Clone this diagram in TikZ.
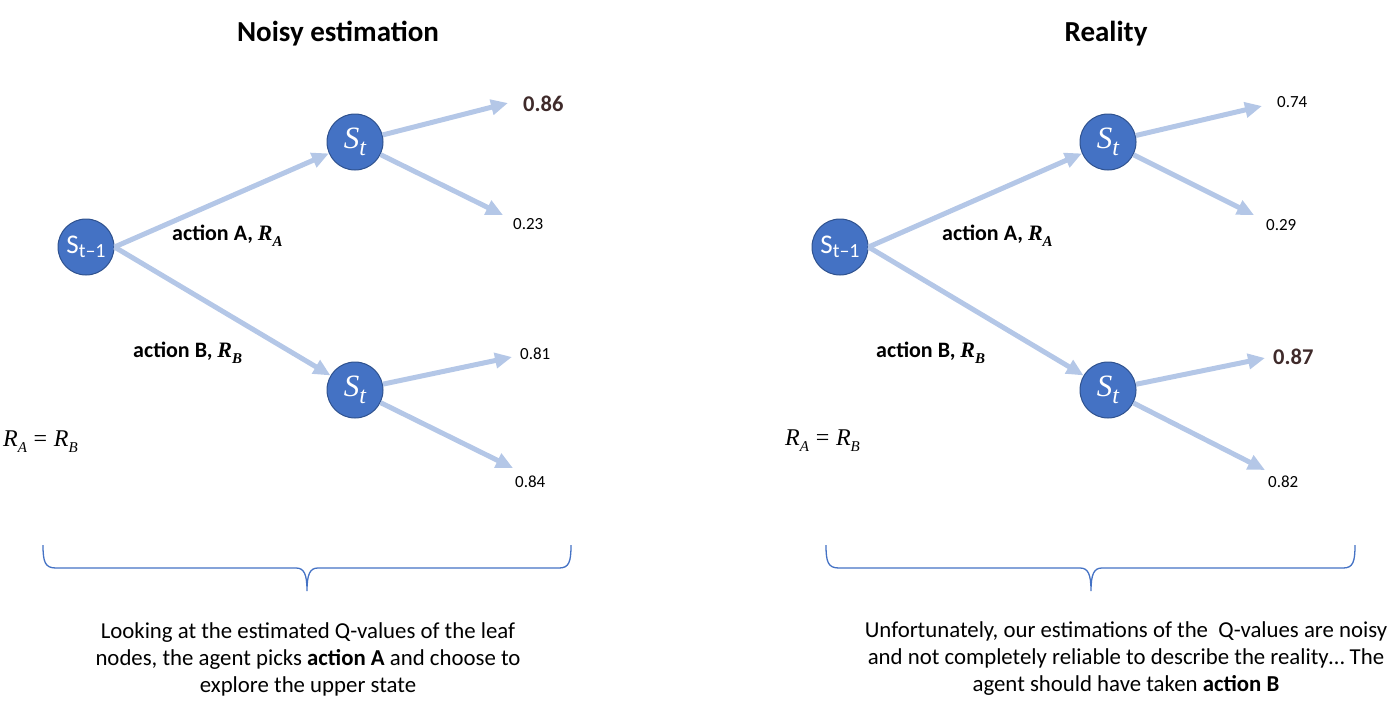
\documentclass[tikz,border=0pt]{standalone}
\usepackage{fontspec}
\setmainfont{Carlito}
\newfontfamily\mfont{Liberation Serif}
\usetikzlibrary{arrows.meta}
\definecolor{nodefill}{HTML}{4472C4}
\definecolor{nodeline}{HTML}{2F528F}
\definecolor{edgecol}{HTML}{B4C7E7}
\definecolor{hicol}{HTML}{3F2A2A}
\definecolor{bracecol}{HTML}{4472C4}
\newcommand{\stlbl}{{\mfont\itshape\fontsize{31}{31}\selectfont S\raisebox{-0.22em}{\fontsize{24}{24}\selectfont t}}}
\newcommand{\sprev}{S\raisebox{-0.3ex}{\fontsize{20}{20}\selectfont t–1}}
\newcommand{\rsub}[1]{{\mfont\itshape R\raisebox{-0.25em}{\fontsize{15}{15}\selectfont #1}}}
\tikzset{
  state/.style={circle, fill=nodefill, draw=nodeline, line width=1pt, minimum size=56pt, inner sep=0pt, text=white, font=\fontsize{27}{27}\selectfont},
  edge/.style={draw=edgecol, line width=5pt, -{Triangle[length=17pt,width=15pt]}},
  leafval/.style={anchor=west, inner sep=0pt, font=\fontsize{17}{17}\selectfont},
  leafbest/.style={anchor=west, inner sep=0pt, text=hicol, font=\fontsize{22.5}{22.5}\selectfont\bfseries},
  actlbl/.style={anchor=west, inner sep=0pt, font=\fontsize{22}{22}\selectfont\bfseries},
  eqlbl/.style={anchor=west, inner sep=0pt, font=\fontsize{24}{24}\selectfont},
  title/.style={inner sep=0pt, font=\fontsize{29}{29}\selectfont\bfseries},
  caption/.style={inner sep=0pt, align=center, font=\fontsize{22.8}{27}\selectfont},
  brace/.style={draw=bracecol, line width=1.3pt}
}
\begin{document}
\begin{tikzpicture}[x=1pt,y=-1pt]
\useasboundingbox (0,0) rectangle (1400,705);
% ---------- left panel ----------
\node[title] (t1) at (338,34) {Noisy estimation};
\node[state] (l0) at (86,247) {\sprev};
\node[state] (lu) at (355,142) {\stlbl};
\node[state] (ld) at (355,390) {\stlbl};
\coordinate (lua) at (508,103);
\coordinate (lub) at (503,215);
\coordinate (lda) at (512,357);
\coordinate (ldb) at (513,468);
\draw[edge] (l0.east) -- (lu);
\draw[edge] (l0.east) -- (ld);
\draw[edge] (lu) -- (lua);
\draw[edge] (lu) -- (lub);
\draw[edge] (ld) -- (lda);
\draw[edge] (ld) -- (ldb);
\node[leafbest] (v1) at (523,104) {0.86};
\node[leafval] (v2) at (513,224) {0.23};
\node[leafval] (v3) at (520,354) {0.81};
\node[leafval] (v4) at (515,482) {0.84};
\node[actlbl] (la) at (172,236) {action A, \rsub{A}};
\node[actlbl] (lb) at (133,353) {action B, \rsub{B}};
\node[eqlbl] (le) at (3,442) {\rsub{A}\hspace{0.28em}{\mfont=}\hspace{0.28em}\rsub{B}};
\draw[brace] (43,545) .. controls (43,562) and (45,568) .. (56,568) -- (296,568) .. controls (304,568) and (307,574) .. (307,591) .. controls (307,574) and (310,568) .. (318,568) -- (559,568) .. controls (569,568) and (571,562) .. (571,545);
\node[caption] (c1) at (308,659) {Looking at the estimated Q-values of the leaf\\nodes, the agent picks \textbf{action A} and choose to\\explore the upper state};
% ---------- right panel ----------
\node[title] (t2) at (1106,34) {Reality};
\node[state] (r0) at (840,247) {\sprev};
\node[state] (ru) at (1108,142) {\stlbl};
\node[state] (rd) at (1108,390) {\stlbl};
\coordinate (rua) at (1262,106);
\coordinate (rub) at (1254,215);
\coordinate (rda) at (1265,358);
\coordinate (rdb) at (1265,470);
\draw[edge] (r0.east) -- (ru);
\draw[edge] (r0.east) -- (rd);
\draw[edge] (ru) -- (rua);
\draw[edge] (ru) -- (rub);
\draw[edge] (rd) -- (rda);
\draw[edge] (rd) -- (rdb);
\node[leafval] (w1) at (1277,102) {0.74};
\node[leafval] (w2) at (1266,225) {0.29};
\node[leafbest] (w3) at (1273,357) {0.87};
\node[leafval] (w4) at (1268,482) {0.82};
\node[actlbl] (ra) at (942,236) {action A, \rsub{A}};
\node[actlbl] (rb) at (876,353) {action B, \rsub{B}};
\node[eqlbl] (re) at (785,441) {\rsub{A}\hspace{0.28em}{\mfont=}\hspace{0.28em}\rsub{B}};
\draw[brace] (826,545) .. controls (826,562) and (828,568) .. (839,568) -- (1080,568) .. controls (1088,568) and (1091,574) .. (1091,591) .. controls (1091,574) and (1094,568) .. (1102,568) -- (1343,568) .. controls (1353,568) and (1355,562) .. (1355,545);
\node[caption] (c2) at (1126,659) {Unfortunately, our estimations of the\ \ Q-values are noisy\\and not completely reliable to describe the reality\ldots{} The\\agent should have taken \textbf{action B}};
\end{tikzpicture}
\end{document}
